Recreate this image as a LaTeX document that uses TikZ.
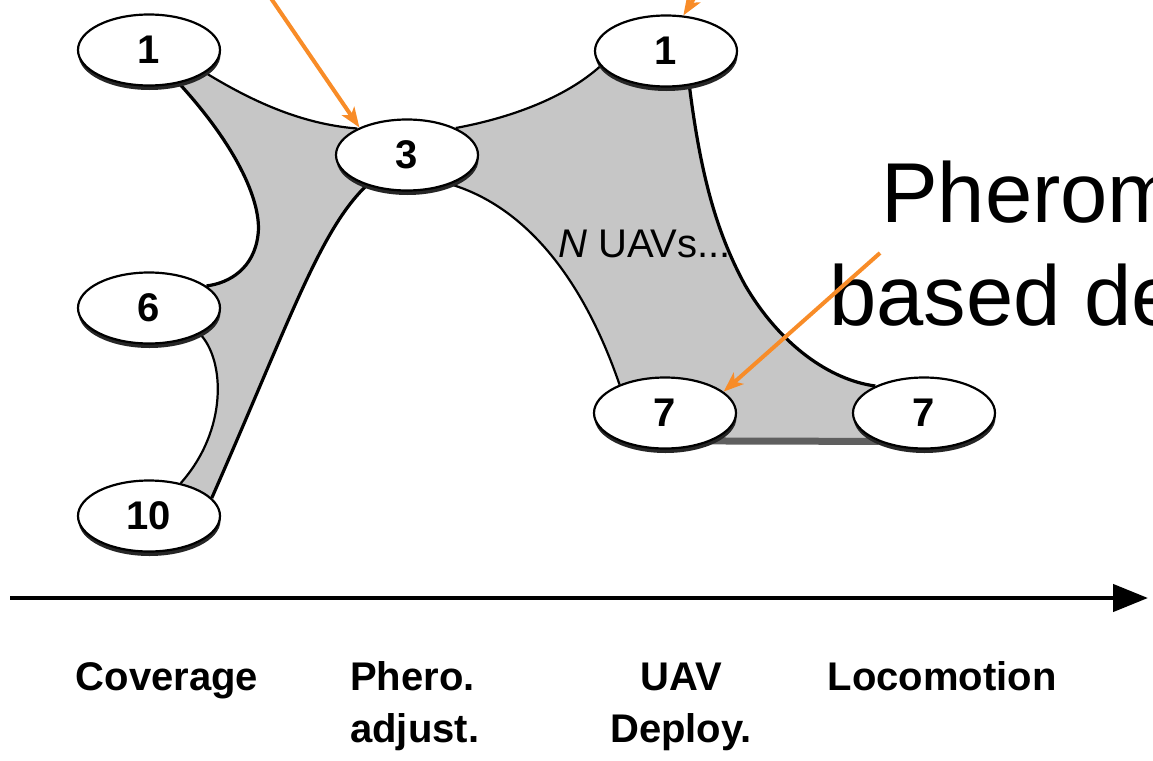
\documentclass[tikz,border=0pt]{standalone}
\usepackage{fontspec}
\setmainfont{Liberation Sans}
\usetikzlibrary{shapes.geometric,arrows.meta,shadows,backgrounds}
\definecolor{bandgray}{RGB}{198,198,198}
\definecolor{pointer}{RGB}{248,140,40}
\definecolor{edgedark}{RGB}{95,95,95}

\begin{document}
\begin{tikzpicture}[x=1pt,y=-1pt,
  stage/.style={ellipse, draw=black, line width=2.2pt, fill=white,
    minimum width=142pt, minimum height=71pt, inner sep=0pt,
    font=\fontsize{40}{48}\selectfont\bfseries,
    general shadow={fill=black!85, shadow xshift=0.5pt, shadow yshift=-4.5pt}},
  rim/.style={line width=2.2pt, black},
  thickrim/.style={line width=3.2pt, black},
  pointer/.style={draw=pointer, line width=4pt,
    -{Stealth[length=20pt,width=15pt,inset=5pt]}},
  phase/.style={font=\fontsize{40}{52}\selectfont\bfseries, inner sep=0pt},
  plain/.style={inner sep=0pt, anchor=base west},
]
\useasboundingbox (0,0) rectangle (1153,760);
\clip (0,0) rectangle (1153,760);

% the stages of the flow
\node[stage] (a1)  at (149,50)  {1};
\node[stage] (b3)  at (407,155) {3};
\node[stage] (c1)  at (666,51)  {1};
\node[stage] (d6)  at (149,308) {6};
\node[stage] (e10) at (149,516) {10};
\node[stage] (f7)  at (665,413) {7};
\node[stage] (g7)  at (924,413) {7};

\begin{pgfonlayer}{background}
  % grey swarm bands between the stages
  \fill[bandgray] (a1.center) -- (a1.-22) .. controls (250,100) and (300,124) .. (b3.152)
    -- (b3.center) -- (b3.217) .. controls (320,230) and (290,320) .. (e10.16)
    -- (e10.center) -- (e10.46) .. controls (228,430) and (225,360) .. (d6.-27)
    -- (d6.center) -- (d6.21) .. controls (230,283) and (254,268) .. (258,235)
    .. controls (262,205) and (240,150) .. (a1.-48) -- cycle;
  \fill[bandgray] (b3.center) -- (b3.29) .. controls (510,118) and (565,98) .. (c1.193)
    -- (c1.center) -- (c1.-56) .. controls (700,170) and (715,230) .. (745,285)
    .. controls (780,345) and (830,380) .. (g7.151)
    -- (g7.center) -- (g7.212) -- (f7.-31)
    -- (f7.center) -- (f7.148) .. controls (580,270) and (520,205) .. (b3.-34) -- cycle;
  % band outlines
  \draw[rim] (a1.-22) .. controls (250,100) and (300,124) .. (b3.152);
  \draw[thickrim] (a1.-48) .. controls (240,150) and (262,205) .. (258,235)
    .. controls (254,268) and (230,283) .. (d6.21);
  \draw[rim] (d6.-27) .. controls (225,360) and (228,430) .. (e10.46);
  \draw[thickrim] (b3.217) .. controls (320,230) and (290,320) .. (e10.16);
  \draw[rim] (b3.29) .. controls (510,118) and (565,98) .. (c1.193);
  \draw[thickrim] (c1.-56) .. controls (700,170) and (715,230) .. (745,285)
    .. controls (780,345) and (830,380) .. (g7.151);
  \draw[rim] (b3.-34) .. controls (520,205) and (580,270) .. (f7.148);
  \draw[line width=7pt, edgedark] (f7.-31) -- (g7.212);
\end{pgfonlayer}

\node[plain, font=\fontsize{40}{48}\selectfont] (nuavs) at (558,257) {\textit{N} UAVs...};

% time axis and its phases
\coordinate (axstart) at (10,598);
\coordinate (axend) at (1148,598);
\draw[line width=4.5pt, -{Triangle[length=35pt,width=27pt]}] (axstart) -- (axend);
\node[phase, anchor=base] (cov) at (167,690) {Coverage};
\node[phase, anchor=base west, align=left] (phero) at (350,742) {Phero.\\adjust.};
\node[phase, anchor=base, align=center] (deploy) at (681,742) {UAV\\Deploy.};
\node[phase, anchor=base] (loco) at (942,690) {Locomotion};

% callout text
\node[plain, font=\fontsize{85}{100}\selectfont] (title1) at (881,222) {Pherom};
\node[plain, font=\fontsize{85}{100}\selectfont] (title2) at (829,325) {based de};

% pointers
\coordinate (p1) at (255,-25);
\coordinate (p2) at (708,-24);
\coordinate (p3) at (880,253);
\draw[pointer] (p1) -- (b3.150);
\draw[pointer] (p2) -- (c1.64);
\draw[pointer] (p3) -- (f7.20);
\end{tikzpicture}
\end{document}
